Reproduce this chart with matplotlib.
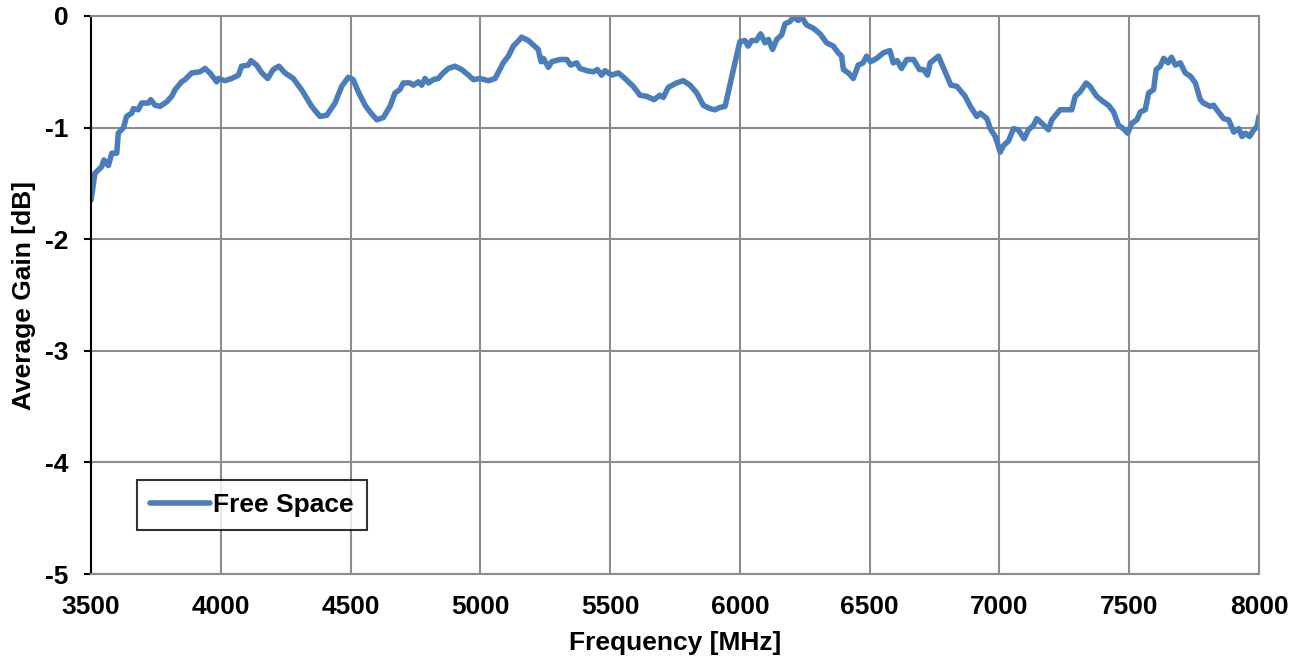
import matplotlib
matplotlib.use('Agg')
import matplotlib.pyplot as plt

plt.rcParams['font.family'] = ['Liberation Sans', 'DejaVu Sans']
plt.rcParams['font.weight'] = 'bold'
plt.rcParams['axes.unicode_minus'] = False

# frequency (MHz) and average gain (dB)
freq = [3500, 3515, 3541, 3550, 3567, 3580, 3599, 3605, 3625, 3637, 3657, 3663, 3682, 3695,
        3721, 3730, 3747, 3766, 3791, 3811, 3824, 3849, 3862, 3888, 3920, 3939, 3958, 3984,
        3990, 4016, 4042, 4068, 4080, 4106, 4116, 4138, 4158, 4181, 4202, 4224, 4247, 4279,
        4311, 4350, 4382, 4408, 4440, 4466, 4491, 4510, 4530, 4556, 4575, 4601, 4626, 4652,
        4671, 4690, 4703, 4729, 4742, 4761, 4774, 4787, 4800, 4819, 4838, 4857, 4877, 4902,
        4928, 4954, 4973, 4999, 5031, 5057, 5088, 5108, 5127, 5140, 5159, 5185, 5204, 5223,
        5234, 5243, 5262, 5275, 5307, 5333, 5348, 5371, 5384, 5410, 5435, 5451, 5467, 5480,
        5506, 5532, 5557, 5589, 5615, 5641, 5669, 5692, 5705, 5724, 5756, 5782, 5808, 5834,
        5859, 5885, 5904, 5923, 5943, 5975, 6000, 6019, 6032, 6045, 6064, 6080, 6097, 6110,
        6126, 6142, 6161, 6174, 6193, 6206, 6225, 6238, 6257, 6283, 6309, 6334, 6360, 6379,
        6392, 6399, 6418, 6437, 6456, 6475, 6488, 6504, 6527, 6553, 6578, 6591, 6606, 6623,
        6643, 6669, 6692, 6707, 6723, 6733, 6765, 6791, 6813, 6836, 6868, 6888, 6913, 6926,
        6952, 6965, 6984, 7003, 7016, 7035, 7054, 7073, 7095, 7112, 7131, 7144, 7163, 7189,
        7202, 7234, 7260, 7279, 7292, 7311, 7334, 7349, 7375, 7401, 7420, 7440, 7459, 7478,
        7494, 7511, 7530, 7543, 7562, 7575, 7594, 7604, 7620, 7633, 7650, 7663, 7678, 7697,
        7716, 7736, 7755, 7774, 7786, 7812, 7825, 7844, 7864, 7883, 7903, 7922, 7935, 7948,
        7964, 7980, 7993, 8000]
gain = [-1.65, -1.41, -1.35, -1.29, -1.34, -1.23, -1.23, -1.05, -1.00, -0.90, -0.87, -0.83, -0.84, -0.78,
        -0.78, -0.75, -0.80, -0.81, -0.77, -0.72, -0.66, -0.59, -0.57, -0.51, -0.50, -0.47, -0.51, -0.59,
        -0.56, -0.58, -0.56, -0.53, -0.45, -0.44, -0.40, -0.44, -0.51, -0.56, -0.48, -0.45, -0.51, -0.56,
        -0.66, -0.81, -0.90, -0.89, -0.78, -0.63, -0.55, -0.57, -0.68, -0.80, -0.86, -0.93, -0.91, -0.81,
        -0.69, -0.66, -0.60, -0.60, -0.62, -0.59, -0.62, -0.56, -0.60, -0.57, -0.56, -0.51, -0.47, -0.45,
        -0.48, -0.53, -0.57, -0.56, -0.58, -0.56, -0.42, -0.36, -0.27, -0.24, -0.19, -0.22, -0.26, -0.30,
        -0.41, -0.38, -0.46, -0.41, -0.39, -0.39, -0.44, -0.42, -0.47, -0.49, -0.50, -0.48, -0.53, -0.49,
        -0.53, -0.51, -0.56, -0.63, -0.71, -0.72, -0.75, -0.71, -0.73, -0.64, -0.60, -0.58, -0.62, -0.69,
        -0.80, -0.83, -0.84, -0.82, -0.81, -0.48, -0.23, -0.22, -0.27, -0.22, -0.22, -0.16, -0.24, -0.21,
        -0.30, -0.21, -0.17, -0.07, -0.05, -0.01, -0.04, -0.01, -0.08, -0.11, -0.16, -0.24, -0.27, -0.33,
        -0.36, -0.48, -0.51, -0.56, -0.44, -0.42, -0.36, -0.41, -0.38, -0.33, -0.31, -0.42, -0.40, -0.47,
        -0.39, -0.39, -0.48, -0.48, -0.53, -0.42, -0.36, -0.50, -0.62, -0.63, -0.72, -0.81, -0.90, -0.87,
        -0.92, -1.01, -1.08, -1.22, -1.16, -1.12, -1.01, -1.02, -1.10, -1.02, -0.98, -0.92, -0.96, -1.02,
        -0.93, -0.84, -0.84, -0.84, -0.72, -0.68, -0.60, -0.63, -0.72, -0.77, -0.80, -0.86, -0.98, -1.01,
        -1.05, -0.96, -0.93, -0.86, -0.84, -0.69, -0.66, -0.48, -0.45, -0.38, -0.42, -0.37, -0.44, -0.42,
        -0.51, -0.54, -0.60, -0.75, -0.78, -0.81, -0.80, -0.86, -0.92, -0.93, -1.04, -1.01, -1.08, -1.05,
        -1.08, -1.02, -0.99, -0.90]

x_ticks = [3500, 4000, 4500, 5000, 5500, 6000, 6500, 7000, 7500, 8000]
y_ticks = [-5, -4, -3, -2, -1, 0]

fig = plt.figure(figsize=(13.08, 6.63), dpi=100)
ax = fig.add_axes([0.0696, 0.1342, 0.8929, 0.8417])

ax.plot(freq, gain, color='#4A7EBB', lw=4, label='Free Space',
        solid_capstyle='round', solid_joinstyle='round')

ax.set_xlim(3500, 8000)
ax.set_ylim(-5, 0)
ax.set_xticks(x_ticks)
ax.set_yticks(y_ticks)
ax.grid(True, color='#8c8c8c', lw=1.5)
ax.set_axisbelow(True)

for s in ['top', 'right', 'bottom']:
    ax.spines[s].set_color('#8c8c8c')
    ax.spines[s].set_linewidth(1.5)
ax.spines['left'].set_color('black')
ax.spines['left'].set_linewidth(1.5)

ax.tick_params(axis='x', length=0, pad=15, labelsize=19)
ax.tick_params(axis='y', length=5, width=1.5, direction='out', pad=11, labelsize=19)

ax.set_xlabel('Frequency [MHz]', fontsize=19, fontweight='bold', labelpad=9)
ax.set_ylabel('Average Gain [dB]', fontsize=19, fontweight='bold', labelpad=7)

leg = ax.legend(loc='lower left', bbox_to_anchor=(0.039, 0.079), fontsize=19,
                frameon=True, fancybox=False, borderpad=0.5, handlelength=2.3,
                handletextpad=0.1, borderaxespad=0)
leg.get_frame().set_edgecolor('black')
leg.get_frame().set_linewidth(1.5)
for t in leg.get_texts():
    t.set_fontweight('bold')

fig.savefig('out.png', dpi=100)
